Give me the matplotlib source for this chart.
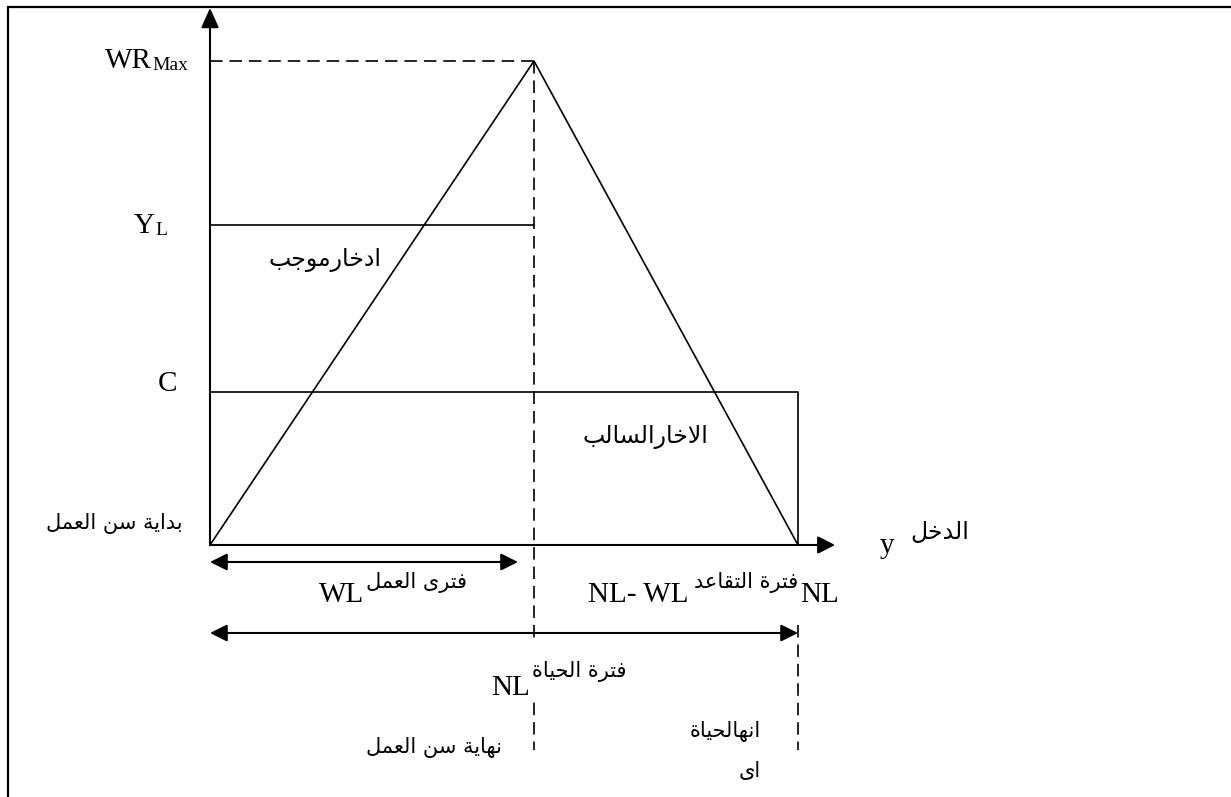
import matplotlib
matplotlib.use("Agg")
import matplotlib.pyplot as plt
from matplotlib.patches import FancyArrowPatch, Rectangle

# chart values (diagram units, origin = start of working age)
WL = 324        # end of working life
NL = 588        # end of life
WR_MAX = 484    # maximum wealth
Y_L = 320       # labour income
C = 153         # consumption

# labels (Arabic in logical order, shaped below)
START = "بداية سن العمل"
POS_SAVE = "ادخارموجب"
NEG_SAVE = "الاخارالسالب"
INCOME = "الدخل"
WORK = "فترى العمل"
RETIRE = "فترة التقاعد"
LIFE = "فترة الحياة"
END_WORK = "نهاية سن العمل"
END_LIFE = ["انهالحياة", "اى"]

# minimal arabic shaping: presentation forms + right-to-left order
FORMS = {
    'ء': (0xFE80,),
    'ا': (0xFE8D, 0xFE8E),
    'ب': (0xFE8F, 0xFE90, 0xFE91, 0xFE92),
    'ة': (0xFE93, 0xFE94),
    'ت': (0xFE95, 0xFE96, 0xFE97, 0xFE98),
    'ج': (0xFE9D, 0xFE9E, 0xFE9F, 0xFEA0),
    'ح': (0xFEA1, 0xFEA2, 0xFEA3, 0xFEA4),
    'خ': (0xFEA5, 0xFEA6, 0xFEA7, 0xFEA8),
    'د': (0xFEA9, 0xFEAA),
    'ر': (0xFEAD, 0xFEAE),
    'س': (0xFEB1, 0xFEB2, 0xFEB3, 0xFEB4),
    'ع': (0xFEC9, 0xFECA, 0xFECB, 0xFECC),
    'ف': (0xFED1, 0xFED2, 0xFED3, 0xFED4),
    'ق': (0xFED5, 0xFED6, 0xFED7, 0xFED8),
    'ل': (0xFEDD, 0xFEDE, 0xFEDF, 0xFEE0),
    'م': (0xFEE1, 0xFEE2, 0xFEE3, 0xFEE4),
    'ن': (0xFEE5, 0xFEE6, 0xFEE7, 0xFEE8),
    'ه': (0xFEE9, 0xFEEA, 0xFEEB, 0xFEEC),
    'و': (0xFEED, 0xFEEE),
    'ى': (0xFEEF, 0xFEF0),
    'ي': (0xFEF1, 0xFEF2, 0xFEF3, 0xFEF4),
}
LAM_ALEF = (0xFEFB, 0xFEFC)


def shape(s):
    out = []
    i = 0
    while i < len(s):
        ch = s[i]
        if ch not in FORMS:
            out.append(ch)
            i += 1
            continue
        prev = s[i - 1] if i > 0 else ''
        joins_prev = prev in FORMS and len(FORMS[prev]) == 4
        if ch == 'ل' and i + 1 < len(s) and s[i + 1] == 'ا':
            out.append(chr(LAM_ALEF[1 if joins_prev else 0]))
            i += 2
            continue
        f = FORMS[ch]
        nxt = s[i + 1] if i + 1 < len(s) else ''
        joins_next = len(f) == 4 and nxt in FORMS
        if joins_prev and joins_next:
            c = f[3]
        elif joins_prev:
            c = f[1]
        elif joins_next:
            c = f[2]
        else:
            c = f[0]
        out.append(chr(c))
        i += 1
    return ''.join(reversed(out))


plt.rcParams['lines.scale_dashes'] = False
LAT = dict(family='Liberation Serif', fontsize=21, color='black')
SUB = dict(family='Liberation Serif', fontsize=14, color='black')
ARB = dict(family='DejaVu Sans', fontsize=15, color='black')
ARB_BIG = dict(family='DejaVu Sans', fontsize=17, color='black')

fig = plt.figure(figsize=(12.31, 7.97), dpi=100)
ax = fig.add_axes([0, 0, 1, 1])
ax.set_xlim(-210, 1021)
ax.set_ylim(-252, 545)
ax.axis('off')

# frame of the original figure box
ax.add_patch(Rectangle((-202, -400), 1600, 938, fill=False, lw=1.6, ec='black'))

DASH = (0, (9, 5))


def arrow(p0, p1, style, ms, lw=1.5):
    ax.add_patch(FancyArrowPatch(p0, p1, arrowstyle=style, mutation_scale=ms,
                                 shrinkA=0, shrinkB=0, lw=lw, color='black'))


# axes
arrow((0, 0), (0, 537), '-|>,head_length=0.4,head_width=0.18', 30)
arrow((0, 0), (625, 0), '-|>,head_length=0.35,head_width=0.18', 30)

# wealth triangle
ax.plot([0, WL, NL], [0, WR_MAX, 0], color='black', lw=1.2)
# income and consumption
ax.plot([0, WL], [Y_L, Y_L], color='black', lw=1.2)
ax.plot([0, NL, NL], [C, C, 0], color='black', lw=1.2)

# dashed guides
ax.plot([0, WL], [WR_MAX, WR_MAX], color='black', lw=1.2, linestyle=DASH)
ax.plot([WL, WL], [WR_MAX, -205], color='black', lw=1.2, linestyle=DASH)
ax.plot([NL, NL], [-80, -205], color='black', lw=1.2, linestyle=DASH)

# period arrows
arrow((0, -17), (WL - 16, -17), '<|-|>,head_length=0.4,head_width=0.2', 26)
arrow((0, -88), (NL, -88), '<|-|>,head_length=0.4,head_width=0.2', 26)

# y-axis labels
ax.text(-58, WR_MAX - 7, 'WR', ha='right', va='baseline', **LAT)
ax.text(-58, WR_MAX - 9, 'Max', ha='left', va='baseline', **SUB)
ax.text(-55, Y_L - 8, 'Y', ha='right', va='baseline', **LAT)
ax.text(-55, Y_L - 10, 'L', ha='left', va='baseline', **SUB)
ax.text(-33, C + 1, 'C', ha='right', va='baseline', **LAT)
ax.text(-27, 21, shape(START), ha='right', va='center', **ARB)

# areas
ax.text(115, Y_L - 35, shape(POS_SAVE), ha='center', va='center', **ARB_BIG)
ax.text(435, C - 45, shape(NEG_SAVE), ha='center', va='center', **ARB_BIG)

# x-axis label
ax.text(677, -8, 'y', ha='center', va='baseline', **LAT)
ax.text(700, 13, shape(INCOME), ha='left', va='center', **ARB_BIG)

# period labels
ax.text(154, -57, 'WL', ha='right', va='baseline', **LAT)
ax.text(156, -43, shape(WORK), ha='left', va='baseline', **ARB)
ax.text(478, -57, 'NL- WL', ha='right', va='baseline', **LAT)
ax.text(484, -43, shape(RETIRE), ha='left', va='baseline', **ARB)
ax.text(NL + 2, -57, 'NL', ha='left', va='baseline', **LAT)
# life-span label sits in a white text box that hides the guide
ax.text(WL - 2, -132, shape(LIFE), ha='left', va='baseline', zorder=3,
        bbox=dict(boxstyle='square,pad=0.9', fc='white', ec='none'), **ARB)
ax.text(WL - 4, -150, 'NL', ha='right', va='baseline', zorder=4, **LAT)

# end markers
ax.text(WL - 32, -202, shape(END_WORK), ha='right', va='center', **ARB)
ax.text(NL - 37, -186, shape(END_LIFE[0]), ha='right', va='center', **ARB)
ax.text(NL - 37, -226, shape(END_LIFE[1]), ha='right', va='center', **ARB)

fig.savefig('out.png', dpi=100)
